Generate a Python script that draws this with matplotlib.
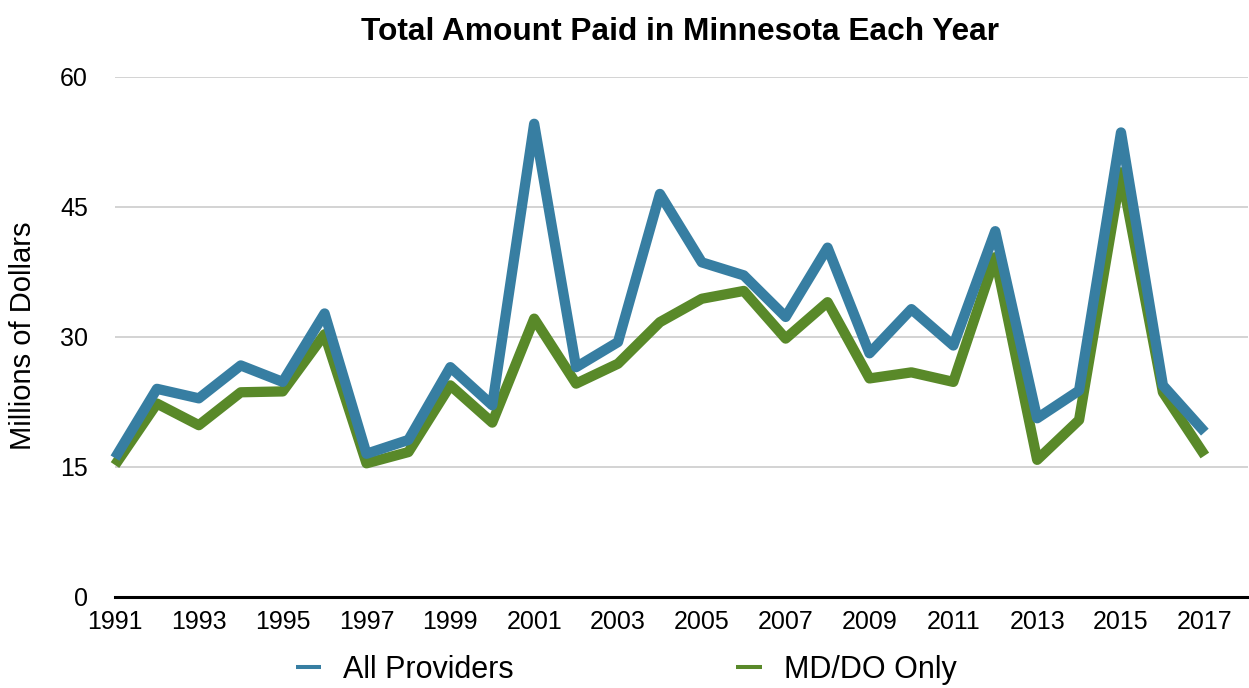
import matplotlib
matplotlib.use("Agg")
import matplotlib.pyplot as plt
from matplotlib.lines import Line2D

plt.rcParams['font.family'] = ['Liberation Sans', 'DejaVu Sans']

years = list(range(1991, 2018))
all_providers = [16.0, 24.0, 22.9, 26.7, 24.8, 32.7, 16.5, 18.1, 26.5, 22.1,
                 54.6, 26.5, 29.4, 46.5, 38.6, 37.1, 32.3, 40.3, 28.1, 33.2,
                 29.0, 42.2, 20.6, 23.8, 53.6, 24.4, 19.0]
md_do_only = [15.2, 22.3, 19.8, 23.6, 23.7, 30.3, 15.4, 16.7, 24.4, 20.1,
              32.1, 24.6, 26.9, 31.7, 34.4, 35.3, 29.8, 34.0, 25.2, 25.9,
              24.8, 39.2, 15.8, 20.4, 49.0, 23.6, 16.3]
xtick_labels = list(range(1991, 2018, 2))
yticks = [0, 15, 30, 45, 60]
series_names = ["All Providers", "MD/DO Only"]
blue = "#377EA2"
green = "#598929"

W, H = 1249, 688
fig = plt.figure(figsize=(W / 100, H / 100), dpi=100)
ax = fig.add_axes([115 / W, 1 - 596.7 / H, (1248 - 115) / W, (596.7 - 77) / H])

ax.plot(years, md_do_only, color=green, lw=7.4, solid_capstyle='butt',
        solid_joinstyle='round', zorder=3, clip_on=False)
ax.plot(years, all_providers, color=blue, lw=7.4, solid_capstyle='butt',
        solid_joinstyle='round', zorder=4, clip_on=False)

ax.set_xlim(1991, 2018.03)
ax.set_ylim(0, 60)
ax.set_yticks(yticks)
ax.set_yticklabels([str(v) for v in yticks])
ax.set_xticks(xtick_labels)
ax.set_xticklabels([str(v) for v in xtick_labels])
ax.tick_params(axis='y', length=0, pad=19.5, labelsize=18)
ax.tick_params(axis='x', length=0, pad=9.5, labelsize=18)
ax.grid(axis='y', color='#c8c8c8', lw=1.1, zorder=0)
ax.set_axisbelow(True)
for s in ['left', 'right', 'top']:
    ax.spines[s].set_visible(False)
ax.spines['bottom'].set_linewidth(2.2)
ax.spines['bottom'].set_color('black')
ax.spines['bottom'].set_zorder(5)

fig.text(680 / W, 1 - 40 / H, "Total Amount Paid in Minnesota Each Year",
         ha='center', va='baseline', fontsize=22.8, fontweight='bold')
fig.text(23 / W, 1 - 336 / H, "Millions of Dollars", rotation=90,
         ha='center', va='center', fontsize=21)

handles = [Line2D([], [], color=blue, lw=2.9, solid_capstyle='butt'),
           Line2D([], [], color=green, lw=2.9, solid_capstyle='butt')]
fig.legend(handles, series_names, ncol=2, loc='center',
           bbox_to_anchor=(626 / W, 1 - 670 / H), frameon=False, fontsize=22,
           handlelength=0.82, handletextpad=0.72, columnspacing=7.3,
           borderpad=0, borderaxespad=0)

fig.savefig("out.png", dpi=100)
